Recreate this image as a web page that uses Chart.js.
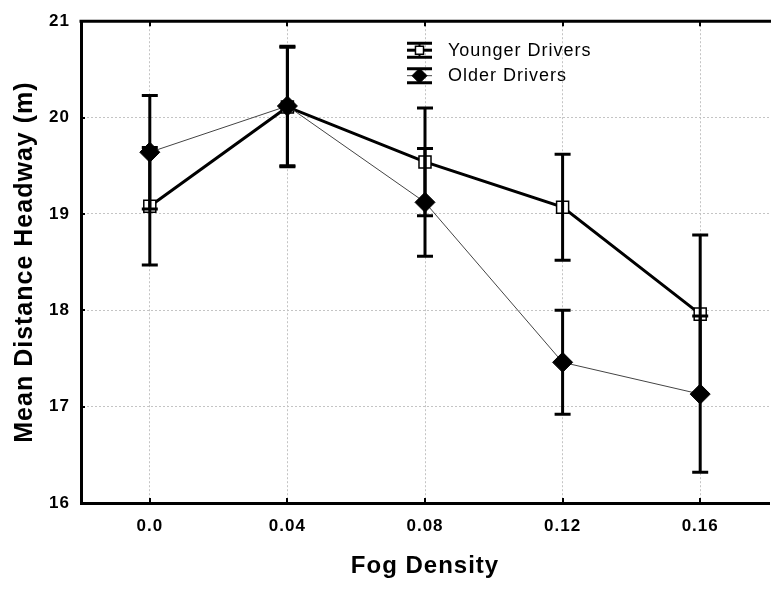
<!DOCTYPE html>
<html>
<head>
<meta charset="utf-8">
<script src="https://cdn.jsdelivr.net/npm/chart.js@4.4.1/dist/chart.umd.min.js"></script>
<style>
  html, body { margin: 0; padding: 0; overflow: hidden; background: #fff; width: 771px; height: 589px; }
  #wrap { position: absolute; left: 0; top: 0; width: 780px; height: 589px; }
</style>
</head>
<body>
<div id="wrap"><canvas id="chart"></canvas></div>
<script>
// Fog density levels (x categories)
const fogDensity = ['0.0', '0.04', '0.08', '0.12', '0.16'];

// Mean distance headway (m) and error half-widths per group
const youngerMean = [19.08, 20.11, 19.54, 19.07, 17.96];
const youngerErr  = [0.61, 0.62, 0.56, 0.55, 0.82];
const olderMean   = [19.64, 20.12, 19.12, 17.46, 17.13];
const olderErr    = [0.59, 0.62, 0.56, 0.54, 0.81];

// Y axis tick values
const yTicks = [16, 17, 18, 19, 20, 21];

const FONT = '"Liberation Sans", Arial, sans-serif';

// Vertical error bars with caps, drawn on top of the lines and markers
const errorBars = {
  id: 'errorBars',
  afterDatasetsDraw(chart) {
    const { ctx, scales: { x, y } } = chart;
    ctx.save();
    ctx.strokeStyle = '#000';
    ctx.lineWidth = 3;
    chart.data.datasets.forEach(ds => {
      ds.data.forEach((v, i) => {
        const px = x.getPixelForValue(i);
        const hi = y.getPixelForValue(v + ds.errors[i]);
        const lo = y.getPixelForValue(v - ds.errors[i]);
        ctx.beginPath();
        ctx.moveTo(px, hi); ctx.lineTo(px, lo);
        ctx.moveTo(px - 8, hi); ctx.lineTo(px + 8, hi);
        ctx.moveTo(px - 8, lo); ctx.lineTo(px + 8, lo);
        ctx.stroke();
      });
    });
    ctx.restore();
  }
};

// Top frame line and small inward tick marks
const frame = {
  id: 'frame',
  beforeDraw(chart) {
    chart.ctx.letterSpacing = '1px';
  },
  afterDraw(chart) {
    const { ctx, chartArea: a, scales: { x, y } } = chart;
    ctx.save();
    ctx.strokeStyle = '#000';
    ctx.lineWidth = 3;
    ctx.beginPath();
    ctx.moveTo(a.left - 1.5, a.top);
    ctx.lineTo(chart.width, a.top);
    ctx.stroke();
    ctx.lineWidth = 2;
    ctx.beginPath();
    fogDensity.forEach((_, i) => {
      const px = Math.round(x.getPixelForValue(i));
      ctx.moveTo(px, a.top); ctx.lineTo(px, a.top + 5);
      ctx.moveTo(px, a.bottom); ctx.lineTo(px, a.bottom - 5);
    });
    yTicks.slice(1, -1).forEach(v => {
      const py = Math.round(y.getPixelForValue(v));
      ctx.moveTo(a.left, py); ctx.lineTo(a.left + 4, py);
    });
    ctx.stroke();
    ctx.restore();
  }
};

// Legend with error-bar symbols inside the plot
const barLegend = {
  id: 'barLegend',
  afterDraw(chart) {
    const { ctx, chartArea: a } = chart;
    const cx = a.left + 338.5;
    const rows = [a.top + 29, a.top + 54.5];
    const markerSize = [5.7, 7.5];
    ctx.save();
    chart.data.datasets.forEach((ds, k) => {
      const cy = rows[k];
      ctx.strokeStyle = '#000';
      ctx.lineWidth = 3;
      ctx.beginPath();
      ctx.moveTo(cx - 12.5, cy - 7); ctx.lineTo(cx + 12.5, cy - 7);
      ctx.moveTo(cx - 12.5, cy + 7); ctx.lineTo(cx + 12.5, cy + 7);
      ctx.stroke();
      ctx.lineWidth = 2;
      ctx.beginPath();
      ctx.moveTo(cx, cy - 7); ctx.lineTo(cx, cy + 7);
      ctx.stroke();
      ctx.strokeStyle = ds.borderColor;
      ctx.lineWidth = ds.borderWidth;
      ctx.beginPath();
      ctx.moveTo(cx - 12.5, cy); ctx.lineTo(cx + 12.5, cy);
      ctx.stroke();
      ctx.fillStyle = ds.pointBackgroundColor;
      ctx.strokeStyle = ds.pointBorderColor;
      ctx.lineWidth = ds.pointBorderWidth;
      Chart.helpers.drawPoint(ctx, { pointStyle: ds.pointStyle, radius: markerSize[k], borderWidth: ds.pointBorderWidth, rotation: 0 }, cx, cy);
      ctx.fillStyle = '#000';
      ctx.font = '18px ' + FONT;
      ctx.textAlign = 'left';
      ctx.textBaseline = 'middle';
      ctx.fillText(ds.label, cx + 28.5, cy + 0.5);
    });
    ctx.restore();
  }
};

new Chart(document.getElementById('chart'), {
  type: 'line',
  data: {
    labels: fogDensity,
    datasets: [
      {
        label: 'Younger Drivers',
        data: youngerMean,
        errors: youngerErr,
        order: 1,
        borderColor: '#000',
        borderWidth: 3,
        pointStyle: 'rect',
        pointRadius: 8.5,
        pointBackgroundColor: '#fff',
        pointBorderColor: '#000',
        pointBorderWidth: 1.5,
        tension: 0
      },
      {
        label: 'Older Drivers',
        data: olderMean,
        errors: olderErr,
        order: 0,
        borderColor: '#444',
        borderWidth: 1,
        pointStyle: 'rectRot',
        pointRadius: 10,
        pointBackgroundColor: '#000',
        pointBorderColor: '#000',
        pointBorderWidth: 1,
        tension: 0
      }
    ]
  },
  options: {
    responsive: true,
    maintainAspectRatio: false,
    animation: false,
    events: [],
    layout: { padding: { top: 18, right: 4.5, left: 0, bottom: 0 } },
    plugins: { legend: { display: false }, tooltip: { enabled: false } },
    scales: {
      x: {
        type: 'category',
        offset: true,
        afterFit(scale) { scale.height = 86; },
        grid: { color: '#c4c4c4', lineWidth: 1, drawTicks: false },
        border: { display: true, color: '#000', width: 3, dash: [2, 2] },
        ticks: { color: '#000', padding: 13, font: { family: FONT, size: 17, weight: 'bold' } },
        title: {
          display: true, text: 'Fog Density', color: '#000',
          font: { family: FONT, size: 24, weight: 'bold' },
          padding: { top: 0, bottom: 8 }
        }
      },
      y: {
        min: 16,
        max: 21,
        afterFit(scale) { scale.width = 81; },
        afterBuildTicks(scale) { scale.ticks = yTicks.map(v => ({ value: v })); },
        grid: { color: '#c4c4c4', lineWidth: 1, drawTicks: false },
        border: { display: true, color: '#000', width: 3, dash: [2, 2] },
        ticks: { color: '#000', padding: 11, font: { family: FONT, size: 17, weight: 'bold' } },
        title: {
          display: true, text: 'Mean Distance Headway (m)', color: '#000',
          font: { family: FONT, size: 25, weight: 'bold' },
          padding: { top: 10, bottom: 0 }
        }
      }
    }
  },
  plugins: [errorBars, frame, barLegend]
});
</script>
</body>
</html>
